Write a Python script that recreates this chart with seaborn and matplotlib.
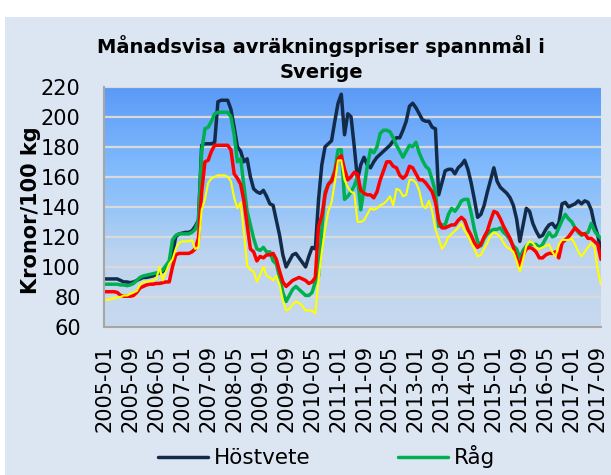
import numpy as np
import pandas as pd
import matplotlib
matplotlib.use("Agg")
import matplotlib.pyplot as plt
import seaborn as sns
from matplotlib.colors import LinearSegmentedColormap
from matplotlib.patches import Rectangle

# månader 2005-01 .. 2017-10
manader = pd.period_range("2005-01", periods=154, freq="M").strftime("%Y-%m").tolist()

# kr/100 kg
hostvete = [92, 92, 92, 92, 92, 91, 90, 90, 89.5, 90,
            91, 92, 93, 93, 93.5, 94, 95, 96, 97, 99,
            103, 109, 120, 122, 122.5, 123, 123, 124, 127, 131,
            181, 182, 182, 182, 183, 210, 211, 211, 211, 205,
            193, 180, 177, 170, 172, 160, 152, 150, 149, 151,
            147, 142, 141, 131, 121, 108, 100, 104, 108, 109,
            106, 103, 100, 107, 113, 112, 145, 168, 180, 182,
            184, 197, 209, 215, 188, 202, 200, 180, 158, 168,
            173, 168, 166, 170, 173, 175, 177, 179, 181, 184,
            186, 186, 191, 197, 207, 209, 206, 202, 198, 197,
            197, 193, 192, 148, 156, 164, 165, 165, 162, 166,
            168, 171, 165, 156, 145, 133, 135, 141, 150, 158,
            166, 157, 153, 151, 149, 146, 141, 132, 117, 128,
            139, 137, 129, 124, 120, 121, 125, 128, 129, 126,
            129, 142, 143, 140, 141, 142, 144, 142, 144, 143,
            138, 128, 121, 111]

rag = [88.5, 88.5, 88.5, 88.5, 88.5, 88, 88, 87.5, 88, 89,
       91, 93, 94, 94.5, 95, 95.5, 96, 96.5, 98, 101,
       104, 118, 121, 122, 122, 122, 122, 123, 125, 131,
       177, 192, 193, 197, 202, 203, 203, 203, 203, 200,
       188, 170, 172, 154, 137, 128, 119, 112, 111, 113,
       110, 110, 104, 102, 93, 83, 77, 81, 85, 87,
       85, 83, 81, 81, 83, 90, 94, 125, 150, 155,
       158, 164, 178, 178, 145, 147, 150, 154, 160, 138,
       152, 167, 178, 176, 180, 189, 191, 191, 190, 186,
       181, 177, 173, 177, 181, 180, 183, 176, 171, 167,
       165, 158, 150, 127, 128, 128, 135, 139, 137, 140,
       144, 145, 145, 136, 125, 117, 114, 119, 122, 124,
       125, 125, 126, 123, 121, 118, 114, 112, 106, 111,
       114, 115, 115, 115, 113, 115, 119, 123, 120, 121,
       126, 131, 135, 132, 130, 126, 123, 121, 122, 123,
       129, 124, 121, 119]

korn = [83.5, 83.5, 83.5, 83.5, 83, 81, 80.5, 80.5, 80.5, 81,
        83, 86, 87, 88, 88.5, 88.5, 89, 89, 89.5, 90,
        90, 100, 108, 109, 109, 109, 109, 110, 112, 119,
        150, 170, 171, 177, 181, 181, 181, 181, 181, 178,
        162, 159, 155, 144, 128, 112, 110, 104, 107, 106,
        108, 108, 109, 105, 97, 90, 87, 89, 91, 92,
        93, 92, 91, 89, 90, 93, 127, 134, 148, 155,
        157, 163, 172, 174, 165, 158, 160, 163, 162, 151,
        149, 148, 148, 146, 150, 158, 164, 170, 170, 167,
        166, 161, 159, 161, 167, 166, 162, 158, 158, 156,
        153, 150, 143, 131, 126, 126, 127, 128, 128, 131,
        133, 131, 125, 121, 116, 113, 115, 120, 124, 131,
        137, 136, 132, 127, 123, 119, 113, 106, 101, 108,
        112, 113, 112, 110, 106, 106, 108, 109, 109, 110,
        106, 116, 118, 120, 123, 126, 124, 122, 122, 119,
        119, 117, 115, 105]

havre = [78, 78, 78.5, 79, 80, 80, 81, 81, 82, 83,
         84, 88, 90, 90, 90.5, 91, 92, 100, 91, 97,
         102, 105, 112, 116, 117, 117, 117, 118, 112, 113,
         138, 145, 156, 159, 160, 161, 161, 161, 160, 157,
         146, 139, 143, 123, 101, 98, 97, 90, 95, 100,
         94, 93, 91, 94, 88, 78, 71, 72, 75, 77,
         76, 74, 71, 71, 71, 69, 92, 110, 125, 137,
         143, 156, 171, 171, 158, 153, 150, 149, 130, 130,
         131, 135, 139, 138, 139, 141, 142, 144, 147, 141,
         152, 151, 147, 148, 158, 158, 156, 151, 141, 139,
         144, 137, 125, 119, 112, 115, 120, 122, 124, 126,
         129, 124, 121, 116, 112, 107, 108, 112, 116, 121,
         123, 122, 120, 116, 113, 112, 110, 104, 97, 105,
         114, 117, 116, 113, 112, 113, 114, 115, 110, 107,
         115, 118, 118, 118, 119, 115, 110, 107, 110, 113,
         116, 113, 98, 88]

df = pd.DataFrame({"Månad": manader, "Höstvete": hostvete, "Råg": rag,
                   "Korn": korn, "Havre": havre})
df["nr"] = np.arange(len(df))

sns.set_theme(style="white")
plt.rcParams["font.family"] = ["DejaVu Sans"]
plt.rcParams.update({"text.color": "black", "axes.labelcolor": "black",
                     "xtick.color": "black", "ytick.color": "black",
                     "xtick.major.size": 0, "ytick.major.size": 0,
                     "xtick.major.pad": 13, "ytick.major.pad": 17})

fig = plt.figure(figsize=(6.11, 4.75), dpi=100, facecolor="white")
# diagramytans ljusblå bakgrund
fig.patches.append(Rectangle((5 / 611, 0), 1, 1 - 17 / 475, transform=fig.transFigure,
                             facecolor="#DCE6F2", edgecolor="none", zorder=-10))

ax = fig.add_axes([104.3 / 611, 1 - 327 / 475, (601 - 104.3) / 611, (327 - 86.7) / 475])
ax.patch.set_visible(False)

# gradient i ritytan
grad = LinearSegmentedColormap.from_list(
    "bg", [(0, "#C7D9EE"), (0.3, "#BDD4EF"), (0.5, "#94C4F9"), (0.68, "#7FB9FD"), (1, "#5A9AF6")])
ax.imshow(np.linspace(0, 1, 256).reshape(-1, 1), cmap=grad, origin="lower",
          extent=[0, 1, 0, 1], transform=ax.transAxes, aspect="auto", zorder=-1)

serier = [("Höstvete", "#132B4A", 2.5), ("Råg", "#00B050", 2.5),
          ("Korn", "#FF0000", 2.5), ("Havre", "#FFFF00", 1.5)]
for namn, farg, lw in serier:
    sns.lineplot(data=df, x="nr", y=namn, color=farg, linewidth=lw, ax=ax,
                 label=namn, solid_joinstyle="round", solid_capstyle="round")

if ax.get_legend() is not None:
    ax.get_legend().remove()

ax.set_xlim(0, len(df) - 1)
ax.set_ylim(60, 220)
ax.set_yticks(range(60, 221, 20))
ax.set_xticks(df["nr"][::8])
ax.set_xticklabels(df["Månad"][::8], rotation=90)
ax.set_xlabel("")
ax.set_ylabel("")

ax.yaxis.grid(True, color="#D9D9D9", linewidth=1.6)
ax.xaxis.grid(False)
ax.set_axisbelow(True)
for s in ["top", "right"]:
    ax.spines[s].set_visible(False)
for s in ["left", "bottom"]:
    ax.spines[s].set_color("#A6A6A6")
    ax.spines[s].set_linewidth(1.5)

ax.tick_params(axis="both", length=0, labelsize=15, colors="black")
ax.tick_params(axis="y", pad=17)
ax.tick_params(axis="x", pad=13)

fig.text(0.526, 1 - 58.5 / 475, "Månadsvisa avräkningspriser spannmål i\nSverige",
         ha="center", va="center", fontsize=14, fontweight="bold", linespacing=1.42,
         color="black")
fig.text(31 / 611, 1 - 210 / 475, "Kronor/100 kg", rotation=90, ha="center",
         va="center", fontsize=15, fontweight="bold", color="black")

handles, labels = ax.get_legend_handles_labels()
fig.legend(handles[:2], labels[:2], loc="center", bbox_to_anchor=(0.534, 0.038), ncol=2,
           frameon=False, fontsize=15.5, handlelength=2.33, handletextpad=0.28,
           columnspacing=4.05)

fig.savefig("out.png", dpi=100)
